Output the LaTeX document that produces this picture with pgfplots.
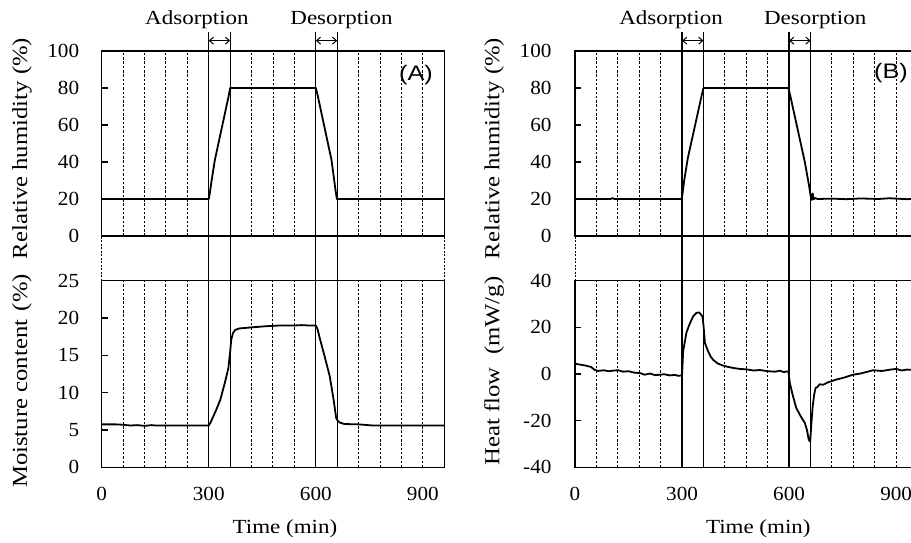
\documentclass[border=0pt]{standalone}
\usepackage{pgfplots}
\pgfplotsset{compat=1.18}
\usetikzlibrary{arrows.meta}
\usepackage{fontspec}
\setmainfont{Liberation Serif}
\newfontfamily\tickfont{Liberation Serif}[FakeStretch=1.06]
\newfontfamily\labfont{Liberation Serif}[FakeStretch=1.15]
\newfontfamily\ylabfont{Liberation Serif}[FakeStretch=1.15]
\newfontfamily\panelfont{Liberation Sans}[FakeStretch=1.2]

\tikzset{
  sarrow/.style={{Straight Barb[length=4pt,width=7pt]}-{Straight Barb[length=4pt,width=7pt]}, line width=1pt},
  vline/.style={line width=1.3pt, black},
  gapline/.style={line width=1pt, black, dash pattern=on 2pt off 1.5pt},
  dataline/.style={black, line width=1.8pt, line join=round},
}
\pgfplotsset{
  base/.style={
    scale only axis, width=342.6pt, xmin=0, xmax=960, clip=false,
    axis line style={line width=1.3pt, black},
    tick align=inside, ytick pos=left, xtick pos=bottom,
    major tick length=6pt,
    tick style={black, line width=1.2pt},
    extra x ticks={60,120,180,240,420,480,540,720,780,840,900},
    extra x tick labels={},
    extra x tick style={grid=major, major tick length=0pt},
    major grid style={black, line width=1pt, dash pattern=on 2.5pt off 1.8pt},
    /pgf/number format/assume math mode=true,
    tick label style={font=\tickfont\fontsize{20}{24}\selectfont},
    every axis y label/.style={rotate=90, anchor=center, font=\ylabfont\fontsize{21.5}{26}\selectfont},
    every axis x label/.style={at={(axis description cs:0.535,-0.327)}, anchor=center, font=\labfont\fontsize{20}{24}\selectfont},
  },
  toprh/.style={base, anchor=south west, height=185pt, ymin=0, ymax=100, ytick={0,20,...,100}, xtick=\empty, ylabel={Relative humidity (\%)}},
  bottom/.style={base, anchor=south west, height=186.6pt, xtick={0,300,600,900}, xtick style={draw=none}, xticklabel style={yshift=-16pt}, xlabel={Time (min)}},
}

\begin{document}
\begin{tikzpicture}
% ---------------- Panel A, top ----------------
\begin{axis}[toprh, at={(101.7pt,306pt)}, yticklabel style={xshift=-19pt}, ylabel style={at={(axis description cs:-0.233,0.473)}}]
\addplot[dataline] coordinates {(0,20) (300,20) (302,22) (308,30) (317,41) (355,75) (360,80) (600,80) (604,77) (644,41) (655,25) (659,20) (960,20)};
\pgfplotsinvokeforeach{300,360,600,660}{\draw[vline] (axis cs:#1,0) -- (axis cs:#1,110.4);}
\draw[sarrow] (axis cs:300,105.6) -- (axis cs:360,105.6);
\draw[sarrow] (axis cs:600,105.6) -- (axis cs:660,105.6);
\node[font=\labfont\fontsize{20}{24}\selectfont] at (axis cs:267,116.8) {Adsorption};
\node[font=\labfont\fontsize{20}{24}\selectfont] at (axis cs:672,116.8) {Desorption};
\node[font=\panelfont\fontsize{21}{25}\selectfont] at (axis cs:880.7,87) {(A)};
\end{axis}
% ---------------- Panel A, bottom ----------------
\begin{axis}[bottom, at={(101.7pt,74.7pt)}, ymin=0, ymax=25, ytick={0,5,...,25}, yticklabel style={xshift=-19pt}, ylabel={Moisture content\hspace{0.4em}(\%)}, ylabel style={at={(axis description cs:-0.233,0.4625)}}]
\addplot[dataline] coordinates {(0,5.75) (40,5.75) (60,5.7) (80,5.6) (100,5.65) (120,5.55) (140,5.65) (150,5.6) (200,5.6) (300,5.6) (305,6.0) (320,7.6) (332,9.0) (345,11.3) (355,13.3) (360,15.5) (363,17.1) (368,18.0) (374,18.4) (385,18.6) (420,18.75) (460,18.9) (500,19.0) (540,19.0) (560,19.05) (580,19.0) (600,19.0) (605,18.5) (611,17.3) (625,14.8) (639,12.2) (650,9.0) (657,6.6) (662,6.2) (667,6.0) (680,5.8) (720,5.75) (760,5.6) (960,5.6)};
\pgfplotsinvokeforeach{300,360,600,660}{\draw[vline] (axis cs:#1,0) -- (axis cs:#1,31.03);}
\draw[gapline] (axis cs:0,25) -- (axis cs:0,31.03);
\draw[gapline] (axis cs:960,25) -- (axis cs:960,31.03);
\end{axis}
% ---------------- Panel B, top ----------------
\begin{axis}[toprh, at={(575pt,306pt)}, yticklabel style={xshift=-20pt}, ylabel style={at={(axis description cs:-0.236,0.473)}}]
\addplot[dataline] coordinates {(0,20) (100,20) (105,20.5) (110,20) (298,20) (300,21) (306,30) (316,42) (355,76) (360,80) (598,80) (603,76) (644,40) (656,27) (660,22) (663,19.5) (666,23) (669,19.8) (673,20.5) (680,20) (720,20.2) (760,19.9) (800,20.3) (850,20) (880,20.4) (930,19.9) (960,20.2)};
\pgfplotsinvokeforeach{300,360,600,660}{\draw[vline] (axis cs:#1,0) -- (axis cs:#1,110.4);}
\draw[sarrow] (axis cs:300,105.6) -- (axis cs:360,105.6);
\draw[sarrow] (axis cs:600,105.6) -- (axis cs:660,105.6);
\node[font=\labfont\fontsize{20}{24}\selectfont] at (axis cs:269,116.8) {Adsorption};
\node[font=\labfont\fontsize{20}{24}\selectfont] at (axis cs:673,116.8) {Desorption};
\node[font=\panelfont\fontsize{21}{25}\selectfont] at (axis cs:885.5,88.1) {(B)};
\end{axis}
% ---------------- Panel B, bottom ----------------
\begin{axis}[bottom, at={(575pt,74.7pt)}, ymin=-40, ymax=40, ytick={-40,-20,...,40}, yticklabel style={xshift=-20pt}, ylabel={Heat flow\ \ (mW/g)}, ylabel style={at={(axis description cs:-0.236,0.516)}}]
\addplot[dataline] coordinates {(0,4.4) (15,4.0) (30,3.6) (45,3.0) (55,1.8) (65,1.3) (80,1.6) (95,1.2) (110,1.5) (121,1.6) (135,1.0) (150,1.2) (165,0.6) (182,0.4) (195,-0.3) (210,0.2) (225,-0.5) (238,-0.3) (250,-0.1) (265,-0.6) (280,-0.4) (290,-0.8) (298,-0.6) (300,-0.5) (303,9.7) (312,17.6) (320,21) (331,24.7) (340,26.2) (348,26.4) (353,25.5) (357,24.7) (360,21) (364,13.3) (373,9.7) (380,7.5) (387,6.1) (400,4.5) (415,3.6) (430,3.0) (443,2.6) (460,2.2) (480,2.0) (500,1.5) (518,1.7) (540,1.2) (560,1.0) (575,1.4) (585,0.8) (592,1.1) (598,1.0) (602,-3.9) (610,-9) (620,-14.6) (632,-18) (644,-21.0) (650,-24) (655,-28.2) (659,-29.0) (662,-22) (666,-13.9) (670,-9) (674,-6.0) (680,-5.5) (685,-4.4) (695,-4.6) (710,-3.5) (732,-2.4) (755,-1.5) (779,-0.3) (800,0.2) (820,1.0) (835,1.6) (860,1.3) (880,1.8) (900,2.2) (915,1.5) (930,1.9) (960,1.6)};
\pgfplotsinvokeforeach{300,360,600,660}{\draw[vline] (axis cs:#1,-40) -- (axis cs:#1,59.29);}
\draw[gapline] (axis cs:0,40) -- (axis cs:0,59.29);
\draw[gapline] (axis cs:960,40) -- (axis cs:960,59.29);
\end{axis}
\pgfresetboundingbox
\path[use as bounding box] (0pt,0pt) rectangle (911pt,542pt);
\end{tikzpicture}
\end{document}
